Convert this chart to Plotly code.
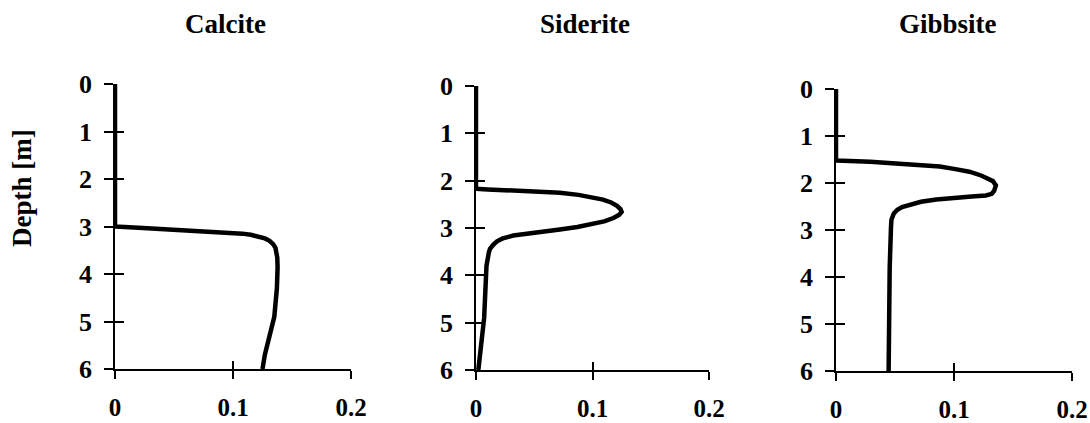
import plotly.graph_objects as go

minerals = ["Calcite", "Siderite", "Gibbsite"]

calcite_depth = [0, 3.0, 3.025, 3.065, 3.10, 3.135, 3.15, 3.175, 3.21, 3.25, 3.30, 3.37, 3.45, 3.55, 3.65, 3.85, 4.3, 4.9, 5.3, 5.7, 6.0]
calcite_value = [0, 0, 0.02, 0.05, 0.08, 0.10, 0.108, 0.115, 0.122, 0.127, 0.131, 0.134, 0.136, 0.137, 0.1375, 0.1378, 0.1372, 0.135, 0.131, 0.127, 0.125]

siderite_depth = [0, 2.17, 2.185, 2.195, 2.21, 2.255, 2.30, 2.35, 2.40, 2.46, 2.53, 2.60, 2.66, 2.72, 2.79, 2.86, 2.92, 2.98, 3.03, 3.07, 3.11, 3.16, 3.22, 3.28, 3.35, 3.44, 3.52, 3.8, 4.9, 6.0]
siderite_value = [0, 0, 0.01, 0.02, 0.044, 0.072, 0.088, 0.10, 0.109, 0.116, 0.121, 0.124, 0.125, 0.123, 0.118, 0.11, 0.10, 0.087, 0.072, 0.057, 0.044, 0.032, 0.023, 0.018, 0.015, 0.012, 0.011, 0.009, 0.007, 0.002]

gibbsite_depth = [0, 1.52, 1.55, 1.61, 1.65, 1.70, 1.76, 1.84, 1.90, 1.96, 2.05, 2.12, 2.17, 2.23, 2.265, 2.285, 2.31, 2.35, 2.40, 2.45, 2.51, 2.57, 2.65, 2.78, 2.94, 3.8, 6.0]
gibbsite_value = [0, 0, 0.029, 0.072, 0.088, 0.10, 0.113, 0.123, 0.129, 0.133, 0.1355, 0.135, 0.134, 0.132, 0.127, 0.115, 0.10, 0.085, 0.072, 0.063, 0.056, 0.052, 0.049, 0.047, 0.0466, 0.0455, 0.0446]

x_ticks = [0, 0.1, 0.2]
x_ticktext = ["0", "0.1", "0.2"]
y_ticks = [0, 1, 2, 3, 4, 5, 6]
y_label = "Depth [m]"

series = [(calcite_value, calcite_depth), (siderite_value, siderite_depth), (gibbsite_value, gibbsite_depth)]

W, H = 1090, 423
x_dom_px = [(115, 351), (476, 709), (836, 1072)]
y_dom_px = [(84, 369), (86, 370), (89, 371)]
title_x_px = [225, 585, 948]

FONT = "Liberation Serif"
fig = go.Figure()
layout = {}
for i in range(3):
    n = i + 1
    m = i + 4
    xd = [x_dom_px[i][0] / W, x_dom_px[i][1] / W]
    yd = [1 - y_dom_px[i][1] / H, 1 - y_dom_px[i][0] / H]
    xs = "" if n == 1 else str(n)
    ms = str(m)
    vals, dep = series[i]
    fig.add_trace(go.Scatter(x=vals, y=dep, mode="lines",
                             line=dict(color="black", width=4.5),
                             xaxis="x" + xs, yaxis="y" + xs, showlegend=False,
                             hoverinfo="skip"))
    fig.add_trace(go.Scatter(x=[None], y=[None], mode="lines",
                             xaxis="x" + ms, yaxis="y" + ms, showlegend=False,
                             hoverinfo="skip"))
    common_x = dict(range=[0, 0.2], tickvals=x_ticks, ticktext=x_ticktext,
                    showgrid=False, zeroline=False, fixedrange=True, automargin=False)
    common_y = dict(range=[6, 0], tickvals=y_ticks,
                    showgrid=False, zeroline=False, fixedrange=True, automargin=False)
    layout["xaxis" + xs] = dict(common_x, domain=xd, anchor="y" + xs,
                                showline=True, linecolor="black", linewidth=1.5,
                                ticks="outside", ticklen=8, tickwidth=1.5, tickcolor="black",
                                tickfont=dict(family=FONT, size=25, color="black", weight="bold"),
                                ticklabelstandoff=7)
    layout["yaxis" + xs] = dict(common_y, domain=yd, anchor="x" + xs,
                                showline=True, linecolor="black", linewidth=1.5,
                                ticks="outside", ticklen=9, tickwidth=1.5, tickcolor="black",
                                tickfont=dict(family=FONT, size=26, color="black", weight="bold"),
                                ticklabelstandoff=7)
    layout["xaxis" + ms] = dict(common_x, domain=xd, anchor="y" + ms, overlaying="x" + xs,
                                showline=False, ticks="inside", ticklen=8, tickwidth=1.5,
                                tickcolor="black", showticklabels=False)
    layout["yaxis" + ms] = dict(common_y, domain=yd, anchor="x" + ms, overlaying="y" + xs,
                                showline=False, ticks="inside", ticklen=9, tickwidth=1.5,
                                tickcolor="black", showticklabels=False)

annotations = []
for i, name in enumerate(minerals):
    annotations.append(dict(text=name, xref="paper", yref="paper",
                            x=title_x_px[i] / W, y=1 - 24 / H, xanchor="center", yanchor="middle",
                            showarrow=False,
                            font=dict(family=FONT, size=27, color="black", weight="bold")))
annotations.append(dict(text=y_label, xref="paper", yref="paper",
                        x=22 / W, y=1 - 188 / H, xanchor="center", yanchor="middle",
                        textangle=-90, showarrow=False,
                        font=dict(family=FONT, size=27, color="black", weight="bold")))

fig.update_layout(width=W, height=H, margin=dict(l=0, r=0, t=0, b=0, pad=0, autoexpand=False),
                  paper_bgcolor="white", plot_bgcolor="white",
                  annotations=annotations, **layout)
fig.write_html("out.html")
